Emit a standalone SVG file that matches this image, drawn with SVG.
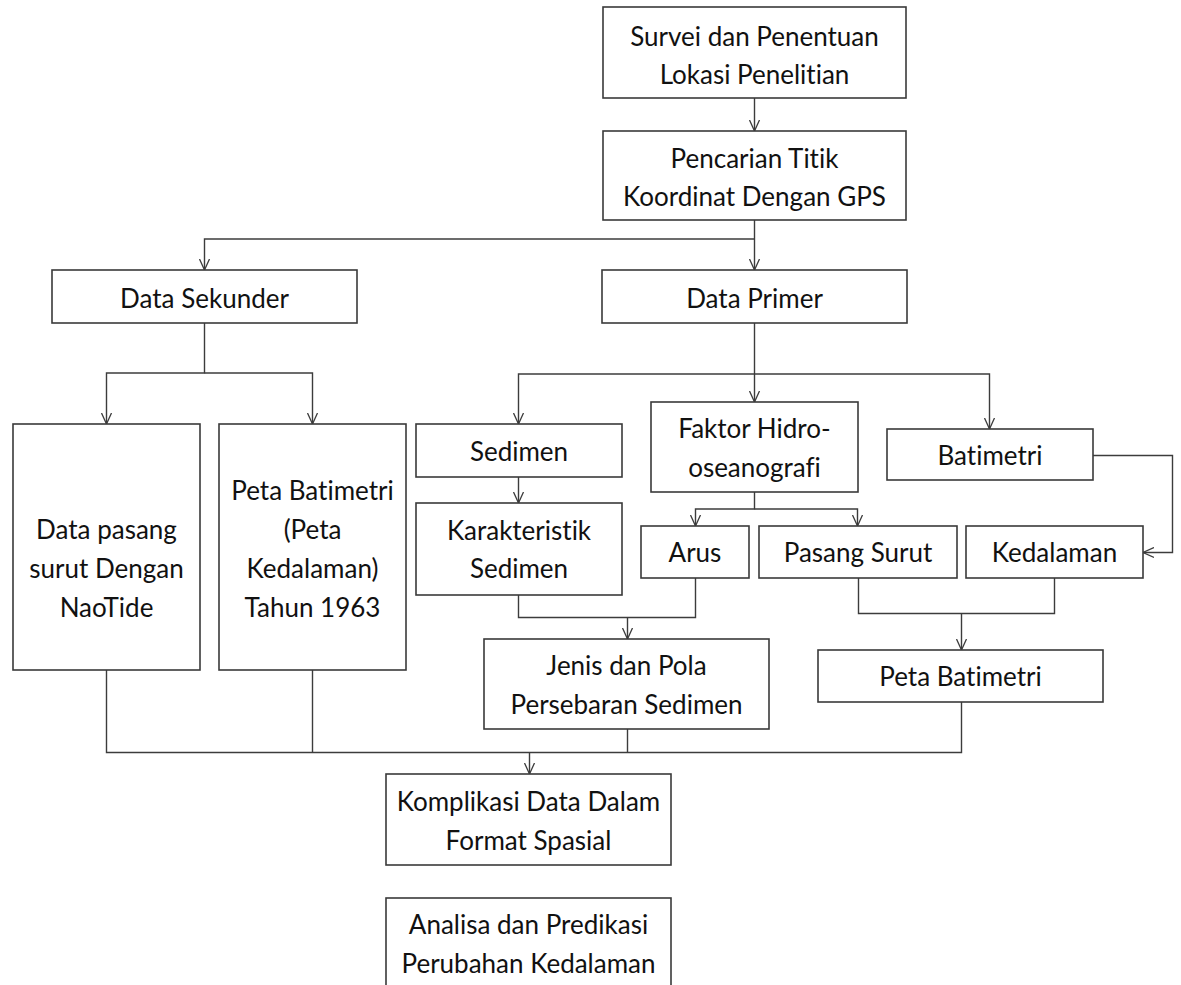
<svg xmlns="http://www.w3.org/2000/svg" width="1181" height="985" viewBox="0 0 1181 985">
<defs>
<marker id="arr" markerUnits="userSpaceOnUse" viewBox="0 0 12 12" refX="11" refY="6" markerWidth="12" markerHeight="12" orient="auto">
<path d="M0,1 L11,6 L0,11" fill="none" stroke="#3c3c3c" stroke-width="1.3"/>
</marker>
</defs>
<style>
rect{fill:#fff;stroke:#3a3a3a;stroke-width:1.6}
text{font-family:"Lato","Carlito","Liberation Sans",sans-serif;font-size:26px;fill:#111;text-anchor:middle;font-variant-ligatures:none;font-feature-settings:"liga" 0,"clig" 0}
.c path{fill:none;stroke:#3c3c3c;stroke-width:1.4}
.a{marker-end:url(#arr)}
</style>
<rect x="0" y="0" width="1181" height="985" style="fill:#fff;stroke:none"/>
<g class="c" id="connectors">
<path class="a" d="M754.5 98 V131"/>
<path class="a" d="M754.5 220 V270"/>
<path class="a" d="M754.5 239 H204.5 V270"/>
<path class="a" d="M204.5 323 V373 H106.5 V424"/>
<path class="a" d="M204.5 373 H312.5 V424"/>
<path class="a" d="M754.5 323 V402"/>
<path class="a" d="M754.5 374 H518.5 V424"/>
<path class="a" d="M754.5 374 H989.5 V429"/>
<path class="a" d="M518.5 477 V503"/>
<path class="a" d="M754.5 492 V509 H695.5 V526"/>
<path class="a" d="M754.5 509 H857.5 V526"/>
<path class="a" d="M1093 455.5 H1172.5 V552.5 H1143"/>
<path d="M518.5 595 V617.5 H695.5 V578"/>
<path class="a" d="M627.5 617.5 V639"/>
<path d="M858.5 578 V613.5 H1054.5 V578"/>
<path class="a" d="M961.5 613.5 V650"/>
<path d="M106.5 670 V752.5 H961.5 V702"/>
<path d="M312.5 670 V752.5"/>
<path d="M627.5 729 V752.5"/>
<path class="a" d="M529.5 752.5 V774"/>
</g>
<g id="n1"><rect x="603" y="7" width="303" height="91"/><text x="754.5" y="46">Survei dan Penentuan</text><text x="754.5" y="84">Lokasi Penelitian</text></g>
<g id="n2"><rect x="603" y="131" width="303" height="89"/><text x="754.5" y="168">Pencarian Titik</text><text x="754.5" y="206">Koordinat Dengan GPS</text></g>
<g id="n3"><rect x="52" y="270" width="305" height="53"/><text x="204.5" y="308">Data Sekunder</text></g>
<g id="n4"><rect x="602" y="270" width="305" height="53"/><text x="754.5" y="308">Data Primer</text></g>
<g id="n5"><rect x="13" y="424" width="187" height="246"/><text x="106.5" y="539">Data pasang</text><text x="106.5" y="578">surut Dengan</text><text x="106.5" y="617">NaoTide</text></g>
<g id="n6"><rect x="219" y="424" width="187" height="246"/><text x="312.5" y="500">Peta Batimetri</text><text x="312.5" y="539">(Peta</text><text x="312.5" y="578">Kedalaman)</text><text x="312.5" y="617">Tahun 1963</text></g>
<g id="n7"><rect x="416" y="424" width="206" height="53"/><text x="519" y="461">Sedimen</text></g>
<g id="n8"><rect x="651" y="402" width="207" height="90"/><text x="754.5" y="438">Faktor Hidro-</text><text x="754.5" y="477">oseanografi</text></g>
<g id="n9"><rect x="887" y="429" width="206" height="51"/><text x="990" y="465">Batimetri</text></g>
<g id="n10"><rect x="416" y="503" width="206" height="92"/><text x="519" y="540">Karakteristik</text><text x="519" y="578">Sedimen</text></g>
<g id="n11"><rect x="641" y="526" width="108" height="52"/><text x="695" y="562">Arus</text></g>
<g id="n12"><rect x="759" y="526" width="198" height="52"/><text x="858" y="562">Pasang Surut</text></g>
<g id="n13"><rect x="966" y="526" width="177" height="52"/><text x="1054.5" y="562">Kedalaman</text></g>
<g id="n14"><rect x="484" y="639" width="285" height="90"/><text x="626.5" y="675">Jenis dan Pola</text><text x="626.5" y="714">Persebaran Sedimen</text></g>
<g id="n15"><rect x="818" y="650" width="285" height="52"/><text x="960.5" y="686">Peta Batimetri</text></g>
<g id="n16"><rect x="386" y="774" width="285" height="91"/><text x="528.5" y="811">Komplikasi Data Dalam</text><text x="528.5" y="850">Format Spasial</text></g>
<g id="n17"><rect x="386" y="898" width="285" height="100"/><text x="528.5" y="934">Analisa dan Predikasi</text><text x="528.5" y="973">Perubahan Kedalaman</text></g>
</svg>
